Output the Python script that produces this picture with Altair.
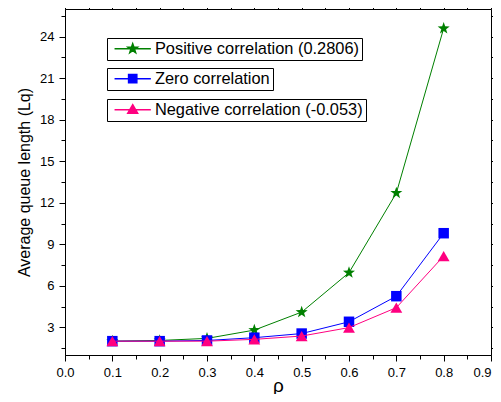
import altair as alt
import pandas as pd

rho = [0.1, 0.2, 0.3, 0.4, 0.5, 0.6, 0.7, 0.8]
positive = [2.0, 2.05, 2.2, 2.8, 4.1, 6.95, 12.7, 24.6]
zero = [2.0, 2.0, 2.05, 2.25, 2.55, 3.4, 5.25, 9.8]
negative = [2.0, 2.0, 2.0, 2.13, 2.37, 2.98, 4.42, 8.15]

series_names = ["Positive correlation (0.2806)", "Zero correlation",
                "Negative correlation (-0.053)"]
colors = ["#008000", "#0000ff", "#ff0080"]
legend_line_colors = ["#70b870", "#7878ff", "#ff78b8"]

x_major = [0.0, 0.1, 0.2, 0.3, 0.4, 0.5, 0.6, 0.7, 0.8, 0.9]
x_minor = [0.05, 0.15, 0.25, 0.35, 0.45, 0.55, 0.65, 0.75, 0.85]
y_major = [3, 6, 9, 12, 15, 18, 21, 24]
y_minor = [1.5, 4.5, 7.5, 10.5, 13.5, 16.5, 19.5, 22.5, 25.5]

FONT = "Liberation Sans"

STAR = ("M0,-1L0.235,-0.324L0.951,-0.309L0.380,0.124L0.588,0.809L0,0.4"
        "L-0.588,0.809L-0.380,0.124L-0.951,-0.309L-0.235,-0.324Z")
plot_shapes = [STAR, "square", "triangle-up"]
plot_sizes = [160, 110, 140]
legend_paths = [
    "M-3.3,0H3.3" + ("M0,-0.9L0.21,-0.29L0.86,-0.28L0.34,0.11L0.53,0.73L0,0.36"
                     "L-0.53,0.73L-0.34,0.11L-0.86,-0.28L-0.21,-0.29Z"),
    "M-3.3,0H3.3M-0.75,-0.75H0.75V0.75H-0.75Z",
    "M-3.3,0H3.3M0,-0.9L0.9,0.65H-0.9Z",
]
legend_y = [29, 59, 90]

xscale = alt.Scale(domain=[0, 0.9], nice=False, zero=False)
yscale = alt.Scale(domain=[1, 26], nice=False, zero=False)

common_axis = dict(grid=False, domainColor="black", tickColor="black",
                   labelColor="black", titleColor="black", labelFont=FONT,
                   titleFont=FONT, domainWidth=1, tickWidth=1, labelFlush=False)

x_axes = [
    alt.Axis(orient="bottom", values=x_major, format=".1f", tickSize=6,
             labelFontSize=13, labelPadding=5, title="ρ", titleFontSize=19,
             titleFontWeight="normal", titlePadding=-3,
             labelAlign={"condition": {"test": "datum.value >= 0.85", "value": "right"},
                         "value": "center"},
             **common_axis),
    alt.Axis(orient="bottom", values=x_minor, tickSize=4, labels=False,
             title="", **common_axis),
    alt.Axis(orient="top", values=sorted(x_major + x_minor), tickSize=3,
             labels=False, title="", **common_axis),
]
y_axes = [
    alt.Axis(orient="left", values=y_major, format="d", tickSize=6,
             labelFontSize=13, labelPadding=5,
             title="Average queue length (Lq)", titleFontSize=16,
             titleFontWeight="normal", titlePadding=7, **common_axis),
    alt.Axis(orient="left", values=y_minor, tickSize=4, labels=False,
             title="", **common_axis),
    alt.Axis(orient="right", values=sorted(y_major + y_minor), tickSize=3,
             labels=False, title="", **common_axis),
]

layers = []
for i, vals in enumerate([positive, zero, negative]):
    df = pd.DataFrame({"rho": rho, "Lq": vals, "series": series_names[i]})
    layer = alt.Chart(df).mark_line(
        strokeWidth=1,
        point=alt.OverlayMarkDef(shape=plot_shapes[i], size=plot_sizes[i],
                                 filled=True, opacity=1),
    ).encode(
        x=alt.X("rho:Q", scale=xscale, axis=x_axes[i]),
        y=alt.Y("Lq:Q", scale=yscale, axis=y_axes[i]),
        color=alt.Color(
            "series:N",
            scale=alt.Scale(domain=[series_names[i]], range=[colors[i]]),
            legend=alt.Legend(
                title=None, orient="none", legendX=42, legendY=legend_y[i],
                symbolType=legend_paths[i], symbolSize=121,
                symbolFillColor=colors[i], symbolStrokeColor=legend_line_colors[i],
                symbolStrokeWidth=1.5, symbolOffset=15, labelOffset=14,
                labelFont=FONT, labelFontSize=16.4, labelColor="black",
                labelLimit=400, padding=2.5, strokeColor="black",
                fillColor="white", cornerRadius=0,
            ),
        ),
    )
    layers.append(layer)

chart = alt.layer(*layers).resolve_scale(
    color="independent"
).resolve_axis(
    x="independent", y="independent"
).properties(
    width=426, height=346,
    autosize=alt.AutoSizeParams(type="none"),
    padding={"left": 57, "top": 1, "right": 2, "bottom": 39},
    background="white",
).configure_view(stroke=None)

chart.save("out.html", embed_options={"renderer": "svg", "actions": False})
